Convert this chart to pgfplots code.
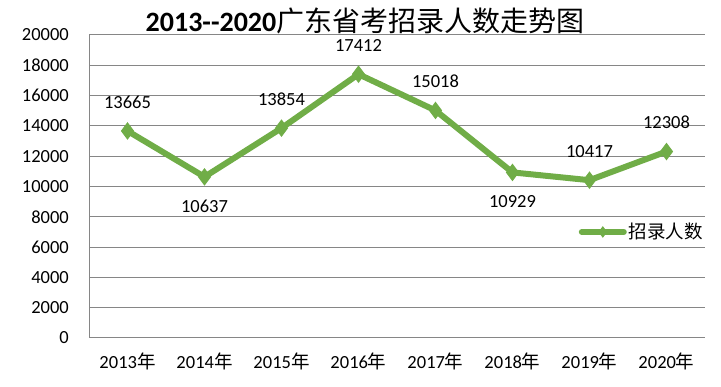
\documentclass[border=0pt]{standalone}
\usepackage{fontspec}
\setmainfont{Carlito}
\newfontfamily\cjk{Noto Sans CJK SC}
\usepackage{pgfplots}
\pgfplotsset{compat=1.18}
\definecolor{lgreen}{RGB}{112,173,71}
\definecolor{gridgray}{RGB}{134,134,134}
\pgfplotstableread{
x y pos
0 13665 1
1 10637 -1
2 13854 1
3 17412 1
4 15018 1
5 10929 -1
6 10417 1
7 12308 1
}\datatable
\begin{document}
\begin{tikzpicture}
\path (0pt,0pt) rectangle (721pt,387pt);
\begin{axis}[
  at={(89pt,49pt)}, anchor=south west,
  scale only axis, width=616pt, height=303pt,
  xmin=-0.5, xmax=7.5, ymin=0, ymax=20000,
  ytick={0,2000,...,20000},
  xtick={0,...,7},
  xticklabels={2013{\cjk 年},2014{\cjk 年},2015{\cjk 年},2016{\cjk 年},2017{\cjk 年},2018{\cjk 年},2019{\cjk 年},2020{\cjk 年}},
  axis x line*=bottom, axis y line*=left,
  ymajorgrids, grid style={gridgray, line width=1pt},
  axis line style={gridgray, line width=1pt},
  major tick length=0pt,
  scaled y ticks=false,
  /pgf/number format/.cd, fixed, 1000 sep={}, assume math mode=true,
  /pgfplots/.cd,
  tick label style={font=\fontsize{18.5}{20}\selectfont, text=black},
  yticklabel style={inner sep=0pt, xshift=-20pt},
  xticklabel style={inner sep=0pt, yshift=-15pt},
  legend style={at={(1,0.35)}, anchor=east, draw=none, fill=none, font=\fontsize{18.5}{20}\selectfont, inner sep=0pt},
  legend cell align=left,
  legend image code/.code={\draw[mark repeat=2, mark phase=2, #1] plot coordinates {(0pt,0pt) (21pt,0pt) (42pt,0pt)};},
  clip=false,
]
\addplot[lgreen, line width=6pt, mark=diamond*, mark size=8pt,
  mark options={fill=lgreen, draw=lgreen, line width=1pt},
  visualization depends on={\thisrow{pos} \as \labelpos},
  nodes near coords,
  point meta=explicit,
  nodes near coords style={font=\fontsize{18.5}{20}\selectfont, text=black, anchor=center, yshift={\labelpos*29pt}, /pgf/number format/.cd, fixed, 1000 sep={}, assume math mode=true},
  legend image post style={line width=6pt, mark size=5pt, line cap=round},
] table[x=x, y=y, meta=y] {\datatable};
\addlegendentry{{\cjk 招录人数}}
\end{axis}
\node[font=\fontsize{28}{30}\selectfont] at (365pt,366pt) {\textbf{2013-{}-2020}{\cjk 广东省考招录人数走势图}};
\end{tikzpicture}
\end{document}
